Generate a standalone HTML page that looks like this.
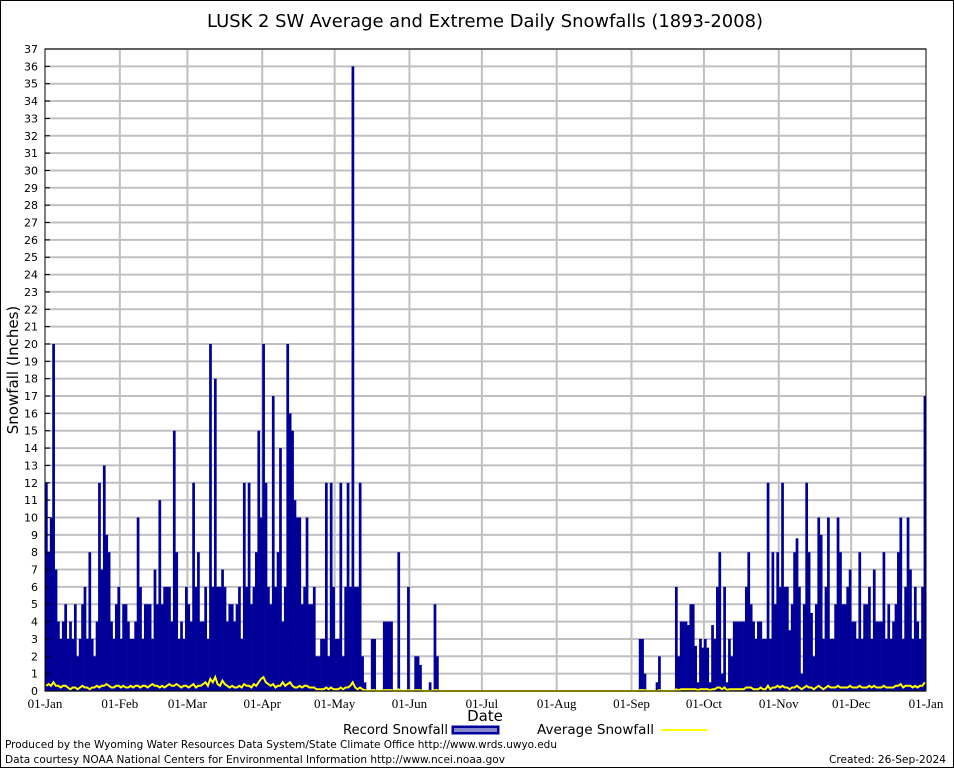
<!DOCTYPE html>
<html><head><meta charset="utf-8"><style>
body{margin:0;background:#fff;}
svg{display:block;font-family:"DejaVu Sans","Liberation Sans",sans-serif;}
</style></head><body>
<svg id="chart" width="954" height="768" viewBox="0 0 954 768" xmlns="http://www.w3.org/2000/svg">
<rect x="0.5" y="0.5" width="953" height="767" fill="#fff" stroke="#000"/>
<text x="207" y="27" font-size="17.5" textLength="556" lengthAdjust="spacingAndGlyphs">LUSK 2 SW Average and Extreme Daily Snowfalls (1893-2008)</text>
<text transform="translate(18,370) rotate(-90)" font-size="15" text-anchor="middle">Snowfall (Inches)</text>
<text x="485" y="721" font-size="15" text-anchor="middle">Date</text>
<g>
<text x="343" y="734" font-size="13" textLength="105" lengthAdjust="spacingAndGlyphs">Record Snowfall</text>
<rect x="452" y="726" width="47" height="8" fill="#000099" stroke="#000099"/>
<rect x="454" y="728" width="43" height="4" fill="#8888cc"/>
<text x="537" y="734" font-size="13" textLength="117" lengthAdjust="spacingAndGlyphs">Average Snowfall</text>
<line x1="661" y1="730" x2="707" y2="730" stroke="#ffff00" stroke-width="2"/>
</g>
<text x="5" y="748" font-size="11" textLength="552" lengthAdjust="spacingAndGlyphs">Produced by the Wyoming Water Resources Data System/State Climate Office http://www.wrds.uwyo.edu</text>
<text x="5" y="763" font-size="11" textLength="500" lengthAdjust="spacingAndGlyphs">Data courtesy NOAA National Centers for Environmental Information http://www.ncei.noaa.gov</text>
<text x="829" y="763" font-size="11" textLength="117" lengthAdjust="spacingAndGlyphs">Created: 26-Sep-2024</text>
<g id="grid"></g><g id="bars"></g><g id="avg"></g><g id="axes"></g>
</svg>
<script>
const recJan=[12,8,10,20,7,4,3,4,5,3,4,3,5,2,3,5,6,3,8,3,2,4,12,7,13,9,8,4,3,5,6];
const recFeb=[3,5,5,4,3,3,4,10,6,3,5,5,5,3,7,5,11,5,6,6,6,4,15,8,3,4,3,6];
const recMar=[5,4,12,6,8,4,4,6,3,20,6,18,6,6,7,6,4,5,5,4,5,6,3,12,6,12,5,6,8,15,10];
const recApr=[20,12,6,5,17,6,8,14,4,6,20,16,15,11,10,10,5,6,10,5,5,6,2,2,3,3,12,2,12,6];
const recMay=[3,3,12,2,6,12,6,36,6,6,12,2,0.5,0,0,3,3,0,0,0,4,4,4,4,0,0,8,0,0,0,6];
const recJun=[0,0,2,2,1.5,0,0,0,0.5,0,5,2,0,0,0,0,0,0,0,0,0,0,0,0,0,0,0,0,0,0];
const recJul=[0,0,0,0,0,0,0,0,0,0,0,0,0,0,0,0,0,0,0,0,0,0,0,0,0,0,0,0,0,0,0];
const recAug=[0,0,0,0,0,0,0,0,0,0,0,0,0,0,0,0,0,0,0,0,0,0,0,0,0,0,0,0,0,0,0];
const recSep=[0,0,0,3,3,1,0,0,0,0,0.5,2,0,0,0,0,0,0,6,2,4,4,4,3.8,5,5,2.6,0.5,3,2.5];
const recOct=[3,2.5,0.5,3.8,3,6,8,1,6,0.5,3,2,4,4,4,4,4,6,8,5,4,3,4,4,3,3,12,3,8,5,8];
const recNov=[6,12,6,6,3.5,5,8,8.8,6,1,5,12,8,4.5,2,5,10,9,3,6,10,3,3,5,10,8,5,5,6,7];
const recDec=[4,4,3,8,3,5,5,6,3,7,4,4,4,8,3,5,3,4,5,8,10,3,6,10,7,3,6,4,3,6,17];
const avgJan=[0.3,0.4,0.3,0.5,0.3,0.3,0.2,0.3,0.3,0.2,0.1,0.2,0.2,0.1,0.2,0.3,0.2,0.2,0.1,0.2,0.2,0.3,0.2,0.3,0.3,0.4,0.3,0.2,0.2,0.3,0.3];
const avgFeb=[0.2,0.3,0.2,0.2,0.3,0.2,0.3,0.3,0.2,0.3,0.3,0.2,0.3,0.4,0.3,0.3,0.2,0.3,0.2,0.3,0.4,0.3,0.3,0.4,0.3,0.2,0.3,0.3];
const avgMar=[0.2,0.3,0.4,0.2,0.3,0.3,0.4,0.5,0.3,0.7,0.5,0.8,0.4,0.3,0.6,0.4,0.3,0.2,0.3,0.2,0.2,0.3,0.2,0.4,0.3,0.3,0.2,0.4,0.3,0.5,0.7];
const avgApr=[0.8,0.5,0.4,0.3,0.4,0.2,0.3,0.3,0.5,0.3,0.4,0.5,0.3,0.2,0.2,0.3,0.2,0.3,0.3,0.2,0.2,0.2,0.1,0.1,0.1,0.1,0.2,0.1,0.2,0.1];
const avgMay=[0.1,0.1,0.2,0.1,0.2,0.2,0.3,0.5,0.2,0.1,0.2,0.1,0.05,0,0,0.05,0.05,0,0,0,0.05,0.05,0.05,0.05,0,0,0.1,0,0,0,0.05];
const avgJun=[0,0,0.05,0.05,0.05,0,0,0,0,0,0.05,0.05,0,0,0,0,0,0,0,0,0,0,0,0,0,0,0,0,0,0];
const avgJul=recJul.slice();
const avgAug=recAug.slice();
const avgSep=[0,0,0,0.05,0.05,0.05,0,0,0,0,0,0.05,0,0,0,0,0,0,0.1,0.05,0.1,0.1,0.1,0.1,0.1,0.1,0.1,0.05,0.1,0.1];
const avgOct=[0.1,0.1,0.05,0.1,0.1,0.2,0.2,0.1,0.2,0.05,0.1,0.1,0.1,0.1,0.1,0.1,0.1,0.2,0.2,0.2,0.1,0.1,0.1,0.2,0.1,0.1,0.3,0.1,0.2,0.2,0.3];
const avgNov=[0.2,0.3,0.2,0.2,0.1,0.2,0.2,0.3,0.2,0.1,0.2,0.3,0.2,0.2,0.1,0.2,0.3,0.2,0.1,0.2,0.3,0.2,0.2,0.2,0.3,0.2,0.2,0.2,0.2,0.3];
const avgDec=[0.2,0.2,0.2,0.3,0.2,0.2,0.2,0.3,0.2,0.3,0.2,0.2,0.2,0.3,0.2,0.2,0.2,0.2,0.3,0.3,0.4,0.2,0.3,0.3,0.3,0.2,0.3,0.2,0.3,0.3,0.5];
const monthLabels=["01-Jan","01-Feb","01-Mar","01-Apr","01-May","01-Jun","01-Jul","01-Aug","01-Sep","01-Oct","01-Nov","01-Dec","01-Jan"];
const yMax=37;

const record=[].concat(recJan,recFeb,recMar,recApr,recMay,recJun,recJul,recAug,recSep,recOct,recNov,recDec);
const average=[].concat(avgJan,avgFeb,avgMar,avgApr,avgMay,avgJun,avgJul,avgAug,avgSep,avgOct,avgNov,avgDec);
const monthLens=[recJan,recFeb,recMar,recApr,recMay,recJun,recJul,recAug,recSep,recOct,recNov,recDec].map(a=>a.length);
const L=45,R=926,T=49,B=691,N=record.length;
const dw=(R-L)/N;
function xs(i){return L+i*dw;}
function ys(v){return B-(v/yMax)*(B-T);}
const NS="http://www.w3.org/2000/svg";
function mk(tag,attrs,parent){const e=document.createElementNS(NS,tag);for(const k in attrs)e.setAttribute(k,attrs[k]);parent.appendChild(e);return e;}
const grid=document.getElementById('grid'),bars=document.getElementById('bars'),avgG=document.getElementById('avg'),axes=document.getElementById('axes');
for(let v=0;v<=yMax;v++){
  const y=ys(v);
  const g=mk('line',{x1:L,x2:R,y1:y,y2:y,stroke:'#c0c0c0','stroke-width':2},grid);
  
  
  const t=mk('text',{x:L-7,y:y+4,'font-size':11,'text-anchor':'end'},axes);
  t.textContent=v;
  
  
  const tk=mk('line',{x1:L,x2:L+5,y1:y,y2:y,stroke:'#000'},axes);
  
  
}
let cum=0;
for(let m=0;m<=12;m++){
  const x=xs(cum);
  if(m>0&&m<12){const g=mk('line',{x1:x,x2:x,y1:T,y2:B,stroke:'#c0c0c0','stroke-width':2},grid);
  
  }
  const t=mk('text',{x:x,y:708,'font-size':13,'text-anchor':'middle','font-family':'"Liberation Serif",serif'},axes);
  t.textContent=monthLabels[m];
  
  
  if(m<12)cum+=monthLens[m];
}
record.forEach((v,i)=>{
  if(v<=0)return;
  const y=ys(v);
  const r=mk('rect',{x:xs(i),y:y,width:dw+0.3,height:B-y,fill:'#000099'},bars);
  
  
});
const pts=average.map((v,i)=>xs(i+0.5).toFixed(1)+','+ys(v).toFixed(1)).join(' ');
const pl=mk('polyline',{points:pts,fill:'none',stroke:'#ffff00','stroke-width':2},avgG);


const fr=mk('rect',{x:L,y:T,width:R-L,height:B-T,fill:'none',stroke:'#000'},axes);


</script>
</body></html>
